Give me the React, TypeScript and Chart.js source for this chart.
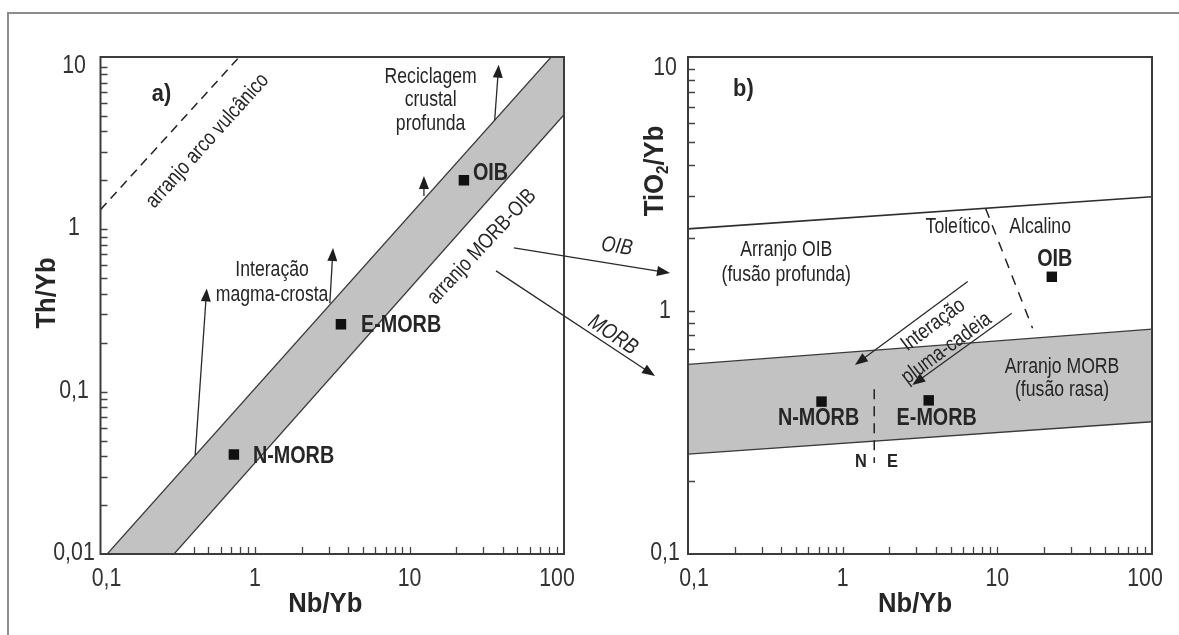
import React, { useEffect, useRef } from 'react';
import { Chart, registerables } from 'chart.js';

Chart.register(...registerables);

const W = 1179;
const H = 635;

// Reference compositions plotted in both diagrams
const SAMPLES = ['N-MORB', 'E-MORB', 'OIB'];
const NB_YB = [0.73, 3.6, 22.5];
const TH_YB = [0.041, 0.26, 2.0];
const TIO2_YB = [0.425, 0.43, 1.39];

// Logarithmic axis ticks
const NB_TICKS = [0.1, 1, 10, 100];
const NB_TICK_LABELS = ['0,1', '1', '10', '100'];
const TH_TICKS = [0.01, 0.1, 1, 10];
const TH_TICK_LABELS = ['0,01', '0,1', '1', '10'];
const TI_TICKS = [0.1, 1, 10];
const TI_TICK_LABELS = ['0,1', '1', '10'];

// Diagram a: MORB-OIB array and volcanic arc trend (Nb/Yb vs Th/Yb)
const EDGE_NB = [0.1, 100];
const ARRAY_TOP_TH = [0.009, 14.1];
const ARRAY_BASE_TH = [0.00309, 5.07];
const ARC_NB = [0.1, 1];
const ARC_TH = [1.32, 14.7];

// Diagram b: OIB and MORB arrays (Nb/Yb vs TiO2/Yb)
const OIB_LIMIT_TI = [2.19, 2.97];
const MORB_TOP_TI = [0.605, 0.845];
const MORB_BASE_TI = [0.258, 0.351];
const THOL_ALK_NB = [8.4, 16.9];
const THOL_ALK_TI = [2.66, 0.852];
const N_E_NB = [1.6, 1.6];
const N_E_TI = [0.478, 0.237];

// Trend arrows: [fromX, fromY, toX, toY]
const ARROWS_A = [
  [35.6, 4.7, 37.8, 10.3],
  [12.4, 1.6, 12.4, 2.13],
  [3.05, 0.35, 3.2, 0.766],
  [0.41, 0.0405, 0.487, 0.432],
];
const ARROWS_B = [
  [6.43, 1.33, 1.2, 0.602],
  [12.4, 0.983, 2.82, 0.497],
];

// Links from diagram a (Nb/Yb, Th/Yb) into diagram b (Nb/Yb, TiO2/Yb)
const LINK_LABELS = ['OIB', 'MORB'];
const LINK_FROM = [[47.4, 0.767], [36.3, 0.554]];
const LINK_TO = [[0.0765, 1.44], [0.0612, 0.542]];
const LINK_LABEL_AT = [[0.0347, 1.85], [0.0327, 0.8]];
const LINK_LABEL_ROT = [9, 34];

const FONT = '"Liberation Sans", Arial, Helvetica, sans-serif';
const INK = '#262626';
const EDGE = '#3a3a3a';
const BAND = '#c2c2c2';

type TextStyle = { size: number; bold?: boolean; italic?: boolean; sx: number; color?: string };
const NOTE: TextStyle = { size: 21.5, sx: 0.82 };
const TICK: TextStyle = { size: 26, sx: 0.82, color: '#333' };
const SAMPLE: TextStyle = { size: 23, bold: true, sx: 0.86 };
const TITLE: TextStyle = { size: 27, bold: true, sx: 0.95 };
const PANEL: TextStyle = { size: 23, bold: true, sx: 0.95 };
const LINK: TextStyle = { size: 22, italic: true, sx: 0.82 };
const SMALL_BOLD: TextStyle = { size: 19, bold: true, sx: 0.86 };

type Note = { text: string; x: number; y: number; rot?: number; style?: TextStyle };

const NOTES_A: Note[] = [
  { text: 'a)', x: 0.248, y: 6.73, style: PANEL },
  { text: 'arranjo arco vulcânico', x: 0.493, y: 3.5, rot: -48 },
  { text: 'Reciclagem', x: 13.7, y: 8.69 },
  { text: 'crustal', x: 13.7, y: 6.27 },
  { text: 'profunda', x: 13.7, y: 4.46 },
  { text: 'Interação', x: 1.29, y: 0.562 },
  { text: 'magma-crosta', x: 1.29, y: 0.391 },
  { text: 'arranjo MORB-OIB', x: 29.4, y: 0.78, rot: -47 },
];

const NOTES_B: Note[] = [
  { text: 'b)', x: 0.228, y: 8.19, style: PANEL },
  { text: 'Toleítico', x: 5.56, y: 2.22 },
  { text: 'Alcalino', x: 18.9, y: 2.22 },
  { text: 'Arranjo OIB', x: 0.432, y: 1.79 },
  { text: '(fusão profunda)', x: 0.432, y: 1.41 },
  { text: 'Arranjo MORB', x: 26.2, y: 0.592 },
  { text: '(fusão rasa)', x: 26.2, y: 0.4745 },
  { text: 'Interação', x: 3.85, y: 0.88, rot: -36.5 },
  { text: 'pluma-cadeia', x: 4.7, y: 0.705, rot: -36.5 },
  { text: 'N', x: 1.31, y: 0.239, style: SMALL_BOLD },
  { text: 'E', x: 2.1, y: 0.239, style: SMALL_BOLD },
];

const fontOf = (st: TextStyle) =>
  `${st.italic ? 'italic ' : ''}${st.bold ? 'bold ' : ''}${st.size}px ${FONT}`;

function drawText(ctx: any, s: string, x: number, y: number, st: TextStyle, rot = 0, align = 'center') {
  ctx.save();
  ctx.translate(x, y);
  if (rot) ctx.rotate((rot * Math.PI) / 180);
  ctx.scale(st.sx, 1);
  ctx.font = fontOf(st);
  ctx.fillStyle = st.color || INK;
  ctx.textAlign = align;
  ctx.textBaseline = 'middle';
  ctx.fillText(s, 0, 0);
  ctx.restore();
}

// Text made of normal and subscript runs, centred on (x, y)
function drawRuns(ctx: any, runs: [string, boolean][], x: number, y: number, st: TextStyle, rot = 0) {
  const sub: TextStyle = { ...st, size: Math.round(st.size * 0.6) };
  ctx.save();
  ctx.translate(x, y);
  if (rot) ctx.rotate((rot * Math.PI) / 180);
  ctx.scale(st.sx, 1);
  ctx.fillStyle = st.color || INK;
  ctx.textBaseline = 'middle';
  ctx.textAlign = 'left';
  let total = 0;
  for (const [s, isSub] of runs) {
    ctx.font = fontOf(isSub ? sub : st);
    total += ctx.measureText(s).width;
  }
  let cx = -total / 2;
  for (const [s, isSub] of runs) {
    ctx.font = fontOf(isSub ? sub : st);
    ctx.fillText(s, cx, isSub ? st.size * 0.28 : 0);
    cx += ctx.measureText(s).width;
  }
  ctx.restore();
}

function drawArrow(ctx: any, x1: number, y1: number, x2: number, y2: number) {
  const a = Math.atan2(y2 - y1, x2 - x1);
  const len = 13;
  const half = 5;
  const c = Math.cos(a);
  const s = Math.sin(a);
  ctx.save();
  ctx.strokeStyle = '#2a2a2a';
  ctx.fillStyle = '#1e1e1e';
  ctx.lineWidth = 1.3;
  ctx.beginPath();
  ctx.moveTo(x1, y1);
  ctx.lineTo(x2 - c * len * 0.7, y2 - s * len * 0.7);
  ctx.stroke();
  ctx.beginPath();
  ctx.moveTo(x2, y2);
  ctx.lineTo(x2 - c * len + s * half, y2 - s * len - c * half);
  ctx.lineTo(x2 - c * len - s * half, y2 - s * len + c * half);
  ctx.closePath();
  ctx.fill();
  ctx.restore();
}

// Every 1..9 x 10^k value strictly inside the axis range
function logMarks(min: number, max: number) {
  const out: number[] = [];
  for (let k = Math.floor(Math.log10(min)); k <= Math.ceil(Math.log10(max)); k++) {
    for (let m = 1; m <= 9; m++) {
      const v = m * Math.pow(10, k);
      if (v > min * 1.001 && v < max * 0.999) out.push(v);
    }
  }
  return out;
}

const pts = (xs: number[], ys: number[]) => xs.map((x, i) => ({ x, y: ys[i] }));

const lineSet = (label: string, xs: number[], ys: number[], extra: any = {}) => ({
  label,
  data: pts(xs, ys),
  showLine: true,
  pointRadius: 0,
  borderColor: EDGE,
  borderWidth: 1.3,
  fill: false,
  ...extra,
});

const sampleSet = (ys: number[]) => ({
  label: 'Amostras',
  data: pts(NB_YB, ys),
  showLine: false,
  pointStyle: 'rect',
  pointRadius: 7.4,
  pointBackgroundColor: '#111',
  pointBorderColor: '#111',
  pointBorderWidth: 0,
});

type PanelSpec = {
  id: string;
  ys: number[];
  notes: Note[];
  arrows: number[][];
  yTicks: number[];
  yTickLabels: string[];
  yLabelGap: number;
  xTitleShift: number;
  yTitle: [string, boolean][];
  yTitleX: number;
  yTitleY: number;
  sampleOffsets: number[][];
  sampleAlign: string;
};

function panelPlugin(p: PanelSpec) {
  return {
    id: p.id,
    beforeDatasetsDraw(chart: any) {
      const { ctx, chartArea: ca, scales } = chart;
      ctx.save();
      ctx.strokeStyle = '#444';
      ctx.lineWidth = 1.3;
      ctx.beginPath();
      for (const v of logMarks(scales.x.min, scales.x.max)) {
        const px = Math.round(scales.x.getPixelForValue(v)) + 0.5;
        ctx.moveTo(px, ca.bottom);
        ctx.lineTo(px, ca.bottom - 7);
      }
      for (const v of logMarks(scales.y.min, scales.y.max)) {
        const py = Math.round(scales.y.getPixelForValue(v)) + 0.5;
        ctx.moveTo(ca.left, py);
        ctx.lineTo(ca.left + 7, py);
      }
      ctx.stroke();
      ctx.restore();
    },
    afterDatasetsDraw(chart: any) {
      const { ctx, chartArea: ca, scales } = chart;
      const X = (v: number) => scales.x.getPixelForValue(v);
      const Y = (v: number) => scales.y.getPixelForValue(v);

      for (const [x1, y1, x2, y2] of p.arrows) drawArrow(ctx, X(x1), Y(y1), X(x2), Y(y2));

      for (const n of p.notes) drawText(ctx, n.text, X(n.x), Y(n.y), n.style || NOTE, n.rot || 0);

      SAMPLES.forEach((name, i) => {
        const [dx, dy] = p.sampleOffsets[i];
        const align = p.sampleAlign;
        drawText(ctx, name, X(NB_YB[i]) + dx, Y(p.ys[i]) + dy, SAMPLE, 0, align);
      });

      // plot frame
      ctx.save();
      ctx.strokeStyle = '#3c3c3c';
      ctx.lineWidth = 2;
      ctx.strokeRect(ca.left, ca.top, ca.right - ca.left, ca.bottom - ca.top);
      ctx.restore();

      // tick labels
      NB_TICKS.forEach((v, i) => {
        const nudge = i === 0 ? 6 : i === NB_TICKS.length - 1 ? -7 : 0;
        drawText(ctx, NB_TICK_LABELS[i], X(v) + nudge, ca.bottom + 25, TICK);
      });
      p.yTicks.forEach((v, i) => {
        drawText(ctx, p.yTickLabels[i], ca.left - p.yLabelGap, Y(v) - 1, TICK);
      });

      // axis titles
      drawText(ctx, 'Nb/Yb', (ca.left + ca.right) / 2 + p.xTitleShift, ca.bottom + 51, TITLE);
      drawRuns(ctx, p.yTitle, ca.left + p.yTitleX, p.yTitleY, TITLE, -90);
    },
  };
}

function linkPlugin(getFrom: () => any) {
  return {
    id: 'links',
    afterDraw(chart: any) {
      const from = getFrom();
      if (!from) return;
      const { ctx, scales } = chart;
      LINK_LABELS.forEach((label, i) => {
        const x1 = from.scales.x.getPixelForValue(LINK_FROM[i][0]);
        const y1 = from.scales.y.getPixelForValue(LINK_FROM[i][1]);
        const x2 = scales.x.getPixelForValue(LINK_TO[i][0]);
        const y2 = scales.y.getPixelForValue(LINK_TO[i][1]);
        drawArrow(ctx, x1, y1, x2, y2);
        drawText(
          ctx,
          label,
          scales.x.getPixelForValue(LINK_LABEL_AT[i][0]),
          scales.y.getPixelForValue(LINK_LABEL_AT[i][1]),
          LINK,
          LINK_LABEL_ROT[i]
        );
      });
    },
  };
}

function makeConfig(datasets: any[], yMin: number, yMax: number, padding: any, plugins: any[]) {
  return {
    type: 'line',
    data: { datasets },
    options: {
      responsive: false,
      animation: false,
      devicePixelRatio: 1,
      events: [],
      layout: { padding },
      scales: {
        x: { type: 'logarithmic', min: 0.1, max: 100, display: false },
        y: { type: 'logarithmic', min: yMin, max: yMax, display: false },
      },
      plugins: { legend: { display: false }, tooltip: { enabled: false } },
      elements: { line: { tension: 0 } },
    },
    plugins,
  } as any;
}

export default function App() {
  const refA = useRef<HTMLCanvasElement>(null);
  const refB = useRef<HTMLCanvasElement>(null);

  useEffect(() => {
    let chartA: any = null;

    const datasetsA = [
      sampleSet(TH_YB),
      lineSet('arranjo MORB-OIB (base)', EDGE_NB, ARRAY_BASE_TH),
      lineSet('arranjo MORB-OIB (topo)', EDGE_NB, ARRAY_TOP_TH, { fill: '-1', backgroundColor: BAND }),
      lineSet('arranjo arco vulcânico', ARC_NB, ARC_TH, { borderDash: [9, 6], borderWidth: 1.5, borderColor: '#222' }),
    ];

    const datasetsB = [
      sampleSet(TIO2_YB),
      lineSet('N / E', N_E_NB, N_E_TI, { borderDash: [10, 7], borderWidth: 1.5, borderColor: '#222' }),
      lineSet('Toleítico / Alcalino', THOL_ALK_NB, THOL_ALK_TI, { borderDash: [10, 8], borderWidth: 1.5, borderColor: '#222' }),
      lineSet('Arranjo OIB', EDGE_NB, OIB_LIMIT_TI, { borderWidth: 1.6, borderColor: '#2e2e2e' }),
      lineSet('Arranjo MORB (base)', EDGE_NB, MORB_BASE_TI),
      lineSet('Arranjo MORB (topo)', EDGE_NB, MORB_TOP_TI, { fill: '-1', backgroundColor: BAND }),
    ];

    const pluginA = panelPlugin({
      id: 'panelA',
      ys: TH_YB,
      notes: NOTES_A,
      arrows: ARROWS_A,
      yTicks: TH_TICKS,
      yTickLabels: TH_TICK_LABELS,
      yLabelGap: 26.5,
      xTitleShift: -7,
      yTitle: [['Th/Yb', false]],
      yTitleX: -52.5,
      yTitleY: 293,
      sampleOffsets: [[19, 2.5], [20, 1], [9, -7]],
      sampleAlign: 'left',
    });

    const pluginB = panelPlugin({
      id: 'panelB',
      ys: TIO2_YB,
      notes: NOTES_B,
      arrows: ARROWS_B,
      yTicks: TI_TICKS,
      yTickLabels: TI_TICK_LABELS,
      yLabelGap: 23,
      xTitleShift: -5,
      yTitle: [['TiO', false], ['2', true], ['/Yb', false]],
      yTitleX: -32,
      yTitleY: 171,
      sampleOffsets: [[-3, 17.5], [8, 18.5], [3, -17]],
      sampleAlign: 'center',
    });

    chartA = new Chart(
      refA.current as HTMLCanvasElement,
      makeConfig(datasetsA, 0.01, 11.5, { left: 100.5, top: 57, right: W - 564, bottom: H - 554 }, [pluginA])
    );
    const chartB = new Chart(
      refB.current as HTMLCanvasElement,
      makeConfig(datasetsB, 0.1, 11.2, { left: 688, top: 57, right: W - 1152, bottom: H - 554 }, [
        pluginB,
        linkPlugin(() => chartA),
      ])
    );

    return () => {
      chartB.destroy();
      chartA.destroy();
    };
  }, []);

  const layer: React.CSSProperties = { position: 'absolute', left: 0, top: 0, width: W, height: H };

  return (
    <div style={{ position: 'fixed', left: 0, top: 0, width: W, height: H, background: '#fff', overflow: 'hidden' }}>
      <div
        style={{
          position: 'absolute',
          left: 7,
          top: 12,
          width: W,
          height: H,
          borderTop: '2px solid #8c8c8c',
          borderLeft: '2px solid #8c8c8c',
        }}
      />
      <canvas ref={refA} width={W} height={H} style={layer} />
      <canvas ref={refB} width={W} height={H} style={layer} />
    </div>
  );
}
